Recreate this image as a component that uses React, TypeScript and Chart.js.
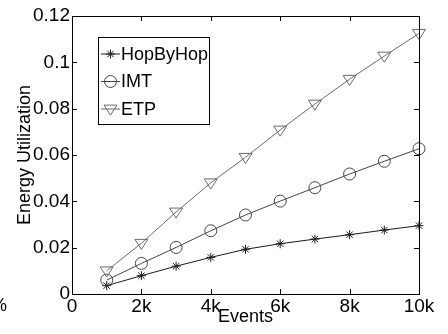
import { useEffect, useRef } from "react";
import { Chart, registerables } from "chart.js";

Chart.register(...registerables);

const events = [1000, 2000, 3000, 4000, 5000, 6000, 7000, 8000, 9000, 10000];
const hopByHop = [0.0036, 0.0079, 0.012, 0.0158, 0.0193, 0.0217, 0.0237, 0.0256, 0.0276, 0.0295];
const imt = [0.006, 0.0132, 0.0201, 0.0273, 0.0341, 0.0401, 0.0459, 0.0518, 0.0573, 0.0627];
const etp = [0.0100, 0.0219, 0.0354, 0.048, 0.059, 0.0708, 0.082, 0.0927, 0.1027, 0.1125];

const seriesNames = ["HopByHop", "IMT", "ETP"];
const xTickValues = [0, 2000, 4000, 6000, 8000, 10000];
const xTickLabels = ["0", "2k", "4k", "6k", "8k", "10k"];
const yTickValues = [0, 0.02, 0.04, 0.06, 0.08, 0.1, 0.12];
const yTickLabels = ["0", "0.02", "0.04", "0.06", "0.08", "0.1", "0.12"];
const xTitle = "Events";
const yTitle = "Energy Utilization";

const FONT = "'Liberation Sans', Arial, sans-serif";
const TICK_FS = 19;
const FS = 18;
const colors = ["#1a1a1a", "#444444", "#6a6a6a"];

function drawMarker(ctx: CanvasRenderingContext2D, kind: number, x: number, y: number, color: string) {
  ctx.save();
  ctx.strokeStyle = color;
  ctx.lineWidth = 1;
  ctx.beginPath();
  if (kind === 0) {
    const r = 4.5;
    for (let a = 0; a < 4; a++) {
      const ang = (a * Math.PI) / 4;
      ctx.moveTo(x - r * Math.cos(ang), y - r * Math.sin(ang));
      ctx.lineTo(x + r * Math.cos(ang), y + r * Math.sin(ang));
    }
  } else if (kind === 1) {
    ctx.arc(x, y, 6, 0, Math.PI * 2);
  } else {
    const r = 6.5;
    ctx.moveTo(x - r, y - r * 0.6);
    ctx.lineTo(x + r, y - r * 0.6);
    ctx.lineTo(x, y + r * 0.95);
    ctx.closePath();
  }
  ctx.stroke();
  ctx.restore();
}

const framePlugin = {
  id: "frame",
  afterDatasetsDraw(chart: any) {
    const { ctx, chartArea } = chart;
    const { left, right, top, bottom } = chartArea;
    const xs = chart.scales.x;
    const ys = chart.scales.y;
    ctx.save();
    ctx.strokeStyle = "#000";
    ctx.lineWidth = 1;
    ctx.strokeRect(Math.round(left) + 0.5, Math.round(top) + 0.5, Math.round(right - left), Math.round(bottom - top));
    ctx.beginPath();
    const tl = 5;
    xTickValues.forEach((v) => {
      const px = Math.round(xs.getPixelForValue(v)) + 0.5;
      ctx.moveTo(px, bottom);
      ctx.lineTo(px, bottom - tl);
      ctx.moveTo(px, top);
      ctx.lineTo(px, top + tl);
    });
    yTickValues.forEach((v) => {
      const py = Math.round(ys.getPixelForValue(v)) + 0.5;
      ctx.moveTo(left, py);
      ctx.lineTo(left + tl, py);
      ctx.moveTo(right, py);
      ctx.lineTo(right - tl, py);
    });
    ctx.stroke();

    // legend
    const lx = 98, ly = 37, lw = 111, lh = 87;
    ctx.fillStyle = "#fff";
    ctx.fillRect(lx, ly, lw, lh);
    ctx.strokeRect(lx + 0.5, ly + 0.5, lw, lh);
    ctx.font = `${FS}px ${FONT}`;
    ctx.textBaseline = "middle";
    ctx.textAlign = "left";
    seriesNames.forEach((name, i) => {
      const y = 54 + i * 27.5;
      ctx.strokeStyle = colors[i];
      ctx.beginPath();
      ctx.moveTo(101, y);
      ctx.lineTo(120, y);
      ctx.stroke();
      drawMarker(ctx, i, 110.5, y, colors[i]);
      ctx.fillStyle = "#000";
      ctx.fillText(name, 121, y + 1);
    });
    // clipped artifact at left edge
    ctx.fillStyle = "#000";
    ctx.textAlign = "left";
    ctx.fillText("%", -9, 306);
    ctx.restore();
  },
};

const markerPlugin = {
  id: "markers",
  afterDatasetsDraw(chart: any) {
    const { ctx } = chart;
    chart.data.datasets.forEach((ds: any, i: number) => {
      const meta = chart.getDatasetMeta(i);
      meta.data.forEach((pt: any) => drawMarker(ctx, i, pt.x, pt.y, colors[i]));
    });
  },
};

export default function App() {
  const ref = useRef<HTMLCanvasElement>(null);
  useEffect(() => {
    document.body.style.margin = "0";
    const mk = (vals: number[]) => events.map((x, i) => ({ x, y: vals[i] }));
    const chart = new Chart(ref.current!, {
      type: "line",
      data: {
        datasets: [hopByHop, imt, etp].map((vals, i) => ({
          label: seriesNames[i],
          data: mk(vals),
          borderColor: colors[i],
          borderWidth: 1,
          pointRadius: 0,
          fill: false,
          tension: 0,
          clip: false as any,
        })),
      },
      options: {
        animation: false,
        responsive: false,
        events: [],
        layout: { padding: { left: 0, right: 29, top: 16, bottom: 0 } },
        plugins: { legend: { display: false }, tooltip: { enabled: false } },
        scales: {
          x: {
            type: "linear",
            min: 0,
            max: 10000,
            afterBuildTicks: (s: any) => {
              s.ticks = xTickValues.map((v) => ({ value: v }));
            },
            afterFit: (s: any) => {
              s.height = 40;
            },
            grid: { display: false, drawTicks: false },
            border: { display: false },
            ticks: {
              padding: 1,
              color: "#000",
              font: { family: FONT, size: TICK_FS },
              maxRotation: 0,
              callback: (_v: any, i: number) => xTickLabels[i],
            },
            title: {
              display: true,
              text: xTitle,
              color: "#000",
              font: { family: FONT, size: FS },
              padding: { top: 0, bottom: 6 },
            },
          },
          y: {
            type: "linear",
            min: 0,
            max: 0.12,
            afterBuildTicks: (s: any) => {
              s.ticks = yTickValues.map((v) => ({ value: v }));
            },
            afterFit: (s: any) => {
              s.width = 72;
            },
            grid: { display: false, drawTicks: false },
            border: { display: false },
            ticks: {
              padding: 2,
              color: "#000",
              font: { family: FONT, size: TICK_FS },
              callback: (_v: any, i: number) => yTickLabels[i],
            },
            title: {
              display: true,
              text: yTitle,
              color: "#000",
              font: { family: FONT, size: FS },
              padding: { top: 14, bottom: 0 },
            },
          },
        },
      },
      plugins: [markerPlugin, framePlugin],
    });
    return () => chart.destroy();
  }, []);
  return <canvas ref={ref} width={448} height={334} style={{ display: "block" }} />;
}
